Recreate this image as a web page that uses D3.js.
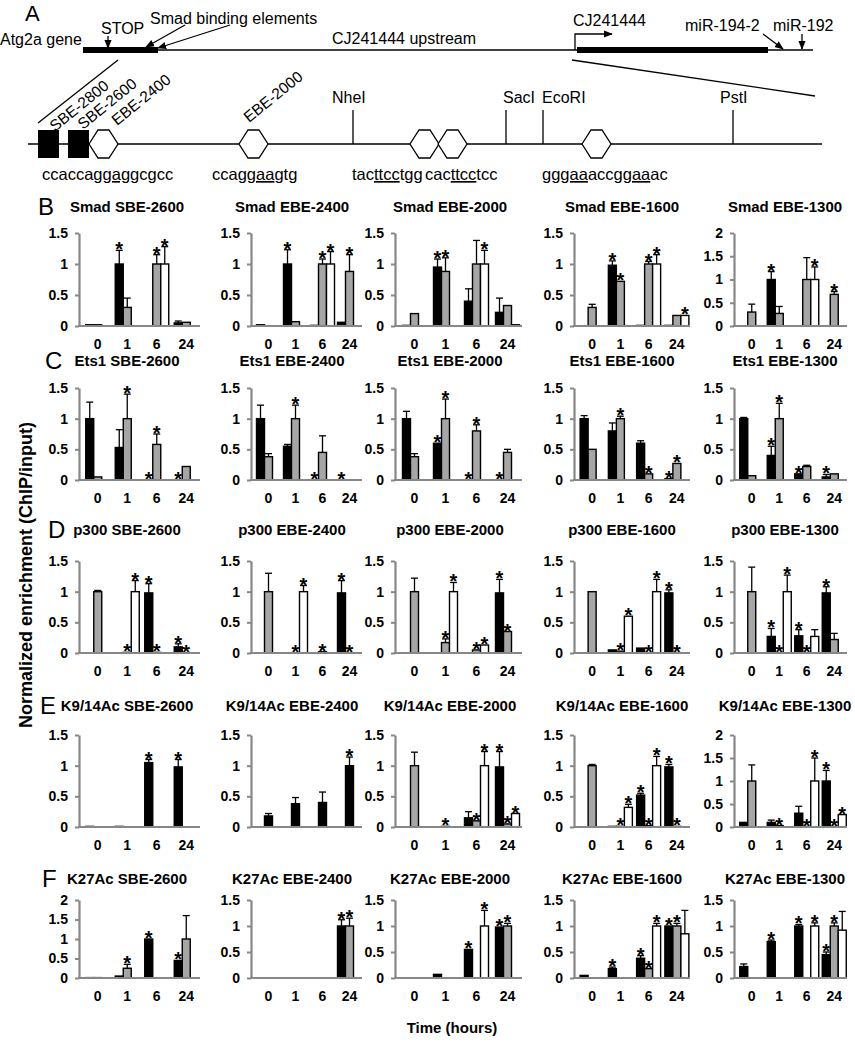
<!DOCTYPE html>
<meta charset="utf-8">
<style>
  body { margin: 0; background: #fff; }
  svg text { font-family: Arial, "Liberation Sans", sans-serif; }
</style>
<svg width="855" height="1050"></svg>
<script src="https://d3js.org/d3.v7.min.js"></script>
<script>

var times = ["0", "1", "6", "24"];
var fills = ["#000000", "#a6a6a6", "#ffffff"];
var sites = ["SBE-2600", "EBE-2400", "EBE-2000", "EBE-1600", "EBE-1300"];
var factors = ["Smad", "Ets1", "p300", "K9/14Ac", "K27Ac"];
var rowLetters = ["B", "C", "D", "E", "F"];

// values per site -> per time -> [black, gray, white]
var smadMean = [
  [[0.02,0.02,0],[1,0.3,0],[0,1,1],[0.05,0.06,0]],
  [[0.02,0,0],[1,0.07,0],[0.01,1,1],[0.06,0.88,0]],
  [[0.01,0.2,0],[0.95,0.88,0],[0.4,1,1],[0.22,0.33,0.02]],
  [[0,0.3,0],[0.98,0.72,0],[0.01,1,1],[0.01,0.17,0.17]],
  [[0,0.3,0],[1,0.27,0],[0,1,1],[0,0.68,0]]
];
var smadErr = [
  [[0,0,0],[0.22,0.15,0],[0,0.15,0.28],[0.03,0,0]],
  [[0,0,0],[0.23,0,0],[0,0.08,0.2],[0,0.27,0]],
  [[0,0,0],[0.13,0.22,0],[0.2,0.38,0.22],[0.23,0,0]],
  [[0,0.05,0],[0.07,0,0],[0,0.04,0.15],[0,0,0]],
  [[0,0.17,0],[0.17,0.15,0],[0,0.47,0.27],[0,0.06,0]]
];
var smadStar = [
  [[0,0,0],[1,0,0],[0,1,1],[0,0,0]],
  [[0,0,0],[1,0,0],[0,1,1],[0,1,0]],
  [[0,0,0],[1,1,0],[0,0,1],[0,0,0]],
  [[0,0,0],[1,1,0],[0,1,1],[0,0,1]],
  [[0,0,0],[1,0,0],[0,0,1],[0,1,0]]
];
var smadMax = [1.5, 1.5, 1.5, 1.5, 2];

var ets1Mean = [
  [[1,0.05,0],[0.53,1,0],[0,0.58,0],[0,0.22,0]],
  [[1,0.38,0],[0.55,1,0],[0,0.45,0],[0,0,0]],
  [[1,0.38,0],[0.6,1,0],[0,0.8,0],[0,0.45,0]],
  [[1,0.5,0],[0.8,1,0],[0.6,0.1,0],[0.02,0.27,0]],
  [[1,0.07,0],[0.4,1,0],[0.1,0.22,0],[0.05,0.1,0]]
];
var ets1Err = [
  [[0.27,0,0],[0.29,0.4,0],[0,0.17,0],[0,0,0]],
  [[0.22,0.05,0],[0.03,0.22,0],[0,0.27,0],[0,0,0]],
  [[0.12,0.05,0],[0,0.32,0],[0,0.1,0],[0,0.05,0]],
  [[0.05,0,0],[0.13,0.04,0],[0.04,0,0],[0,0,0]],
  [[0.02,0,0],[0.15,0.25,0],[0,0.02,0],[0.04,0,0]]
];
var ets1Star = [
  [[0,0,0],[0,1,0],[1,1,0],[1,0,0]],
  [[0,0,0],[0,1,0],[1,0,0],[1,0,0]],
  [[0,0,0],[1,1,0],[1,1,0],[1,0,0]],
  [[0,0,0],[0,1,0],[0,1,0],[1,1,0]],
  [[0,0,0],[1,1,0],[1,0,0],[1,0,0]]
];
var ets1Max = [1.5, 1.5, 1.5, 1.5, 1.5];

var p300Mean = [
  [[0,1,0],[0,0.01,1],[0.98,0.01,0],[0.1,0,0]],
  [[0,1,0],[0,0,1],[0,0.02,0],[0.98,0,0]],
  [[0,1,0],[0,0.17,1],[0,0.05,0.13],[0.98,0.35,0]],
  [[0,1,0],[0.05,0.03,0.6],[0.08,0,1],[0.98,0,0]],
  [[0,1,0],[0.27,0,1],[0.28,0,0.27],[0.98,0.22,0]]
];
var p300Err = [
  [[0,0.02,0],[0,0,0.18],[0.15,0,0],[0.05,0,0]],
  [[0,0.3,0],[0,0,0.1],[0,0,0],[0.2,0,0]],
  [[0,0.22,0],[0,0.06,0.15],[0,0,0],[0.22,0,0]],
  [[0,0,0],[0,0,0],[0,0,0.2],[0.05,0,0]],
  [[0,0.4,0],[0.13,0,0.27],[0.1,0,0.11],[0.1,0.1,0]]
];
var p300Star = [
  [[0,0,0],[0,1,1],[1,1,0],[1,1,0]],
  [[0,0,0],[0,1,1],[0,1,0],[1,1,0]],
  [[0,0,0],[0,1,1],[0,1,1],[1,1,0]],
  [[0,0,0],[0,1,1],[0,1,1],[1,1,0]],
  [[0,0,0],[1,1,1],[1,1,0],[1,0,0]]
];
var p300Max = [1.5, 1.5, 1.5, 1.5, 1.5];

var k914Mean = [
  [[0.01,0,0],[0.01,0,0],[1.05,0,0],[0.98,0,0]],
  [[0.18],[0.38],[0.4],[1]],
  [[0,1,0],[0,0.01,0],[0.15,0.1,1],[0.98,0.05,0.22]],
  [[0,1,0],[0.01,0.01,0.32],[0.52,0.02,1],[0.98,0.01,0]],
  [[0.1,1,0],[0.1,0.03,0],[0.3,0.01,1],[1,0.01,0.27]]
];
var k914Err = [
  [[0,0,0],[0,0,0],[0.05,0,0],[0.12,0,0]],
  [[0.04],[0.1],[0.17],[0.14]],
  [[0,0.22,0],[0,0,0],[0.1,0,0.23],[0.25,0,0]],
  [[0,0.02,0],[0,0,0.05],[0.03,0,0.15],[0.04,0,0]],
  [[0,0.35,0],[0.05,0,0],[0.15,0,0.5],[0.23,0,0]]
];
var k914Star = [
  [[0,0,0],[0,0,0],[1,0,0],[1,0,0]],
  [[0],[0],[0],[1]],
  [[0,0,0],[0,1,0],[0,1,1],[1,1,1]],
  [[0,0,0],[0,1,1],[1,1,1],[1,1,0]],
  [[0,0,0],[0,1,0],[0,1,1],[1,1,1]]
];
var k914Max = [1.5, 1.5, 1.5, 1.5, 2];

var k27Mean = [
  [[0.01,0.01,0],[0.05,0.25,0],[1,0,0],[0.45,1,0]],
  [[0,0,0],[0,0,0],[0,0,0],[1,1,0]],
  [[0,0,0],[0.07,0,0],[0.55,0,1],[0.98,1,0]],
  [[0.05,0,0],[0.18,0,0],[0.38,0.18,1],[1,1,0.85]],
  [[0.22,0,0],[0.7,0,0],[1,0,1],[0.45,1,0.92]]
];
var k27Err = [
  [[0,0,0],[0,0.1,0],[0,0,0],[0,0.6,0]],
  [[0,0,0],[0,0,0],[0,0,0],[0.12,0.15,0]],
  [[0,0,0],[0,0,0],[0,0,0.3],[0,0.05,0]],
  [[0,0,0],[0.03,0,0],[0.05,0,0.05],[0,0.05,0.45]],
  [[0.05,0,0],[0.03,0,0],[0.03,0,0.06],[0.05,0.06,0.36]]
];
var k27Star = [
  [[0,0,0],[0,1,0],[1,0,0],[1,0,0]],
  [[0,0,0],[0,0,0],[0,0,0],[1,1,0]],
  [[0,0,0],[0,0,0],[1,0,1],[1,1,0]],
  [[0,0,0],[1,0,0],[1,1,1],[1,1,0]],
  [[0,0,0],[1,0,0],[1,0,1],[1,1,0]]
];
var k27Max = [2, 1.5, 1.5, 1.5, 1.5];

var rows = [
  {mean: smadMean, err: smadErr, star: smadStar, max: smadMax},
  {mean: ets1Mean, err: ets1Err, star: ets1Star, max: ets1Max},
  {mean: p300Mean, err: p300Err, star: p300Star, max: p300Max},
  {mean: k914Mean, err: k914Err, star: k914Star, max: k914Max},
  {mean: k27Mean, err: k27Err, star: k27Star, max: k27Max}
];

// layout
var colX0 = [79, 251, 395, 574, 734];
var colX1 = [200, 362, 522, 690, 847];
var titleCx = [127, 292, 450, 622, 785];
var rowTop = [233, 388, 561, 735, 900];
var rowBot = [326, 480, 653, 827, 978];
var titleY = [212, 366, 535, 711, 884];
var letterX = [38, 45, 48, 40, 42];
var grayAxis = "#878787";

var svg = d3.select("svg");
svg.append("rect").attr("width", 855).attr("height", 1050).attr("fill", "#fff");

var defs = svg.append("defs");
defs.append("marker")
    .attr("id", "arrowhead")
    .attr("viewBox", "0 -5 10 10")
    .attr("refX", 9).attr("refY", 0)
    .attr("orient", "auto")
    .attr("markerUnits", "userSpaceOnUse")
    .attr("markerWidth", 9).attr("markerHeight", 9)
  .append("path")
    .attr("d", "M0,-4L10,0L0,4Z")
    .attr("fill", "#000");

// ---------- panel A ----------
var a = svg.append("g").style("font-size", "16px");
a.append("text").attr("x", 25).attr("y", 21).style("font-size", "22px").text("A");
a.append("text").attr("x", 0).attr("y", 45).text("Atg2a gene");
a.append("text").attr("x", 101).attr("y", 34).text("STOP");
a.append("text").attr("x", 150).attr("y", 24).text("Smad binding elements");
a.append("text").attr("x", 332).attr("y", 44).text("CJ241444 upstream");
a.append("text").attr("x", 573).attr("y", 26).text("CJ241444");
a.append("text").attr("x", 685).attr("y", 31).text("miR-194-2");
a.append("text").attr("x", 773).attr("y", 31).text("miR-192");

var ln = function(x1, y1, x2, y2, arrow) {
  var l = a.append("line").attr("x1", x1).attr("y1", y1).attr("x2", x2).attr("y2", y2)
      .attr("stroke", "#000").attr("stroke-width", 1.3);
  if (arrow) l.attr("marker-end", "url(#arrowhead)");
};
ln(83, 50, 813, 50);
a.append("rect").attr("x", 83).attr("y", 47).attr("width", 75).attr("height", 6).attr("fill", "#000");
a.append("rect").attr("x", 577).attr("y", 47).attr("width", 191).attr("height", 6).attr("fill", "#000");
ln(108, 36, 108, 48, true);
ln(185, 25, 146, 47, true);
ln(230, 25, 158, 48, true);
a.append("path").attr("d", "M575,50V34H612").attr("fill", "none").attr("stroke", "#000")
    .attr("stroke-width", 1.3).attr("marker-end", "url(#arrowhead)");
ln(763, 34, 783, 49, true);
ln(802, 34, 802, 49, true);
ln(118, 60, 38, 123);
ln(572, 60, 815, 96);
ln(28, 144, 822, 144);

a.append("rect").attr("x", 38).attr("y", 130).attr("width", 21).attr("height", 28).attr("fill", "#000");
a.append("rect").attr("x", 68).attr("y", 130).attr("width", 21).attr("height", 28).attr("fill", "#000");
[89, 239, 410, 438, 582].forEach(function(hx) {
  var w = 29, t = 130, b = 158, m = 144;
  a.append("path")
      .attr("d", "M" + hx + "," + m + "L" + (hx + 9) + "," + t + "L" + (hx + w - 9) + "," + t +
                 "L" + (hx + w) + "," + m + "L" + (hx + w - 9) + "," + b + "L" + (hx + 9) + "," + b + "Z")
      .attr("fill", "#fff").attr("stroke", "#000").attr("stroke-width", 1.3);
});
[[353, "NheI", 332], [506, "SacI", 503], [543, "EcoRI", 542], [733, "PstI", 720]].forEach(function(s) {
  ln(s[0], 110, s[0], 144);
  a.append("text").attr("x", s[2]).attr("y", 103).text(s[1]);
});
[[55, 132, "SBE-2800"], [83, 130, "SBE-2600"], [117, 126, "EBE-2400"], [249, 123, "EBE-2000"]].forEach(function(s) {
  a.append("text").attr("transform", "translate(" + s[0] + "," + s[1] + ") rotate(-39)")
      .style("font-size", "15.5px").text(s[2]);
});
[[42, ["ccacca", "ggag", "gcgcc"]], [212, ["cca", "ggaa", "gtg"]], [352, ["tac", "ttcc", "tgg"]],
 [425, ["cac", "ttcc", "tcc"]], [542, ["g", "ggaa", "acc", "ggaa", "ac"]]].forEach(function(s) {
  var t = a.append("text").attr("x", s[0]).attr("y", 180).style("font-size", "16.5px");
  s[1].forEach(function(part, i) {
    var sp = t.append("tspan").text(part);
    if (i % 2 === 1) sp.style("text-decoration", "underline");
  });
});

// ---------- bar charts ----------
function drawChart(r, c) {
  var row = rows[r];
  var mean = row.mean[c], err = row.err[c], star = row.star[c], max = row.max[c];
  var x0 = colX0[c], x1 = colX1[c], yTop = rowTop[r], yBot = rowBot[r];
  var g = svg.append("g");

  var y = d3.scaleLinear().domain([0, max]).range([yBot, yTop]);
  var x = d3.scaleBand().domain(times).range([x0 + 4, x1 + 1]);
  var nSeries = mean[0].length;
  var bw = 8;
  var xs = d3.scaleBand().domain(d3.range(nSeries)).range([-bw * nSeries / 2, bw * nSeries / 2]);

  var bars = [];
  times.forEach(function(t, ti) {
    mean[ti].forEach(function(v, si) {
      bars.push({t: t, s: si, v: v, e: err[ti][si], star: star[ti][si]});
    });
  });

  g.selectAll("rect.bar").data(bars).enter().append("rect")
      .attr("class", "bar")
      .attr("x", function(d) { return x(d.t) + x.bandwidth() / 2 + xs(d.s); })
      .attr("y", function(d) { return y(d.v); })
      .attr("width", bw)
      .attr("height", function(d) { return yBot - y(d.v); })
      .attr("fill", function(d) { return fills[d.s]; })
      .attr("stroke", "#000").attr("stroke-width", 1.4);

  var cx = function(d) { return x(d.t) + x.bandwidth() / 2 + xs(d.s) + bw / 2; };
  var eb = bars.filter(function(d) { return d.e > 0; });
  g.selectAll("line.err").data(eb).enter().append("line")
      .attr("x1", cx).attr("x2", cx)
      .attr("y1", function(d) { return y(d.v); })
      .attr("y2", function(d) { return y(d.v + d.e); })
      .attr("stroke", "#000").attr("stroke-width", 1.3);
  g.selectAll("line.cap").data(eb).enter().append("line")
      .attr("x1", function(d) { return cx(d) - 3.5; })
      .attr("x2", function(d) { return cx(d) + 3.5; })
      .attr("y1", function(d) { return y(d.v + d.e); })
      .attr("y2", function(d) { return y(d.v + d.e); })
      .attr("stroke", "#000").attr("stroke-width", 1.3);

  g.selectAll("text.star").data(bars.filter(function(d) { return d.star; })).enter().append("text")
      .attr("x", cx)
      .attr("y", function(d) { return y(d.v + d.e) + 6; })
      .attr("text-anchor", "middle")
      .style("font-size", "20px").style("font-weight", "bold")
      .text("*");

  var ticks = max === 2 ? [0, 0.5, 1, 1.5, 2] : [0, 0.5, 1, 1.5];
  var ya = g.append("g").attr("transform", "translate(" + x0 + ",0)")
      .call(d3.axisLeft(y).tickValues(ticks).tickSizeInner(4).tickSizeOuter(0).tickPadding(7)
            .tickFormat(d3.format("")));
  ya.select(".domain").attr("stroke", grayAxis).attr("stroke-width", 2.2);
  ya.selectAll(".tick line").attr("stroke", grayAxis).attr("stroke-width", 2);
  ya.selectAll(".tick text").style("font-size", "14px").style("font-weight", "bold")
      .style("font-family", "Arial, 'Liberation Sans', sans-serif").attr("fill", "#000");

  g.append("line").attr("x1", x0 - 1).attr("x2", x1).attr("y1", yBot).attr("y2", yBot)
      .attr("stroke", grayAxis).attr("stroke-width", 2.2);

  if (!(r === 3 && c === 1)) {
    g.selectAll("text.xl").data(times).enter().append("text")
        .attr("x", function(t) { return x(t) + x.bandwidth() / 2; })
        .attr("y", yBot + 23)
        .attr("text-anchor", "middle")
        .style("font-size", "14px").style("font-weight", "bold")
        .text(function(t) { return t; });
  }

  svg.append("text").attr("x", titleCx[c]).attr("y", titleY[r])
      .attr("text-anchor", "middle")
      .style("font-size", "15px").style("font-weight", "bold")
      .text(factors[r] + " " + sites[c]);
}

rows.forEach(function(row, r) {
  sites.forEach(function(s, c) { drawChart(r, c); });
  svg.append("text").attr("x", letterX[r]).attr("y", titleY[r] + 3)
      .style("font-size", "24px").text(rowLetters[r]);
});

svg.append("text")
    .attr("transform", "translate(32,575) rotate(-90)")
    .attr("text-anchor", "middle")
    .style("font-size", "18px").style("font-weight", "bold")
    .text("Normalized enrichment (ChIP/input)");

svg.append("text").attr("x", 452).attr("y", 1033)
    .attr("text-anchor", "middle")
    .style("font-size", "15px").style("font-weight", "bold")
    .text("Time (hours)");

</script>
